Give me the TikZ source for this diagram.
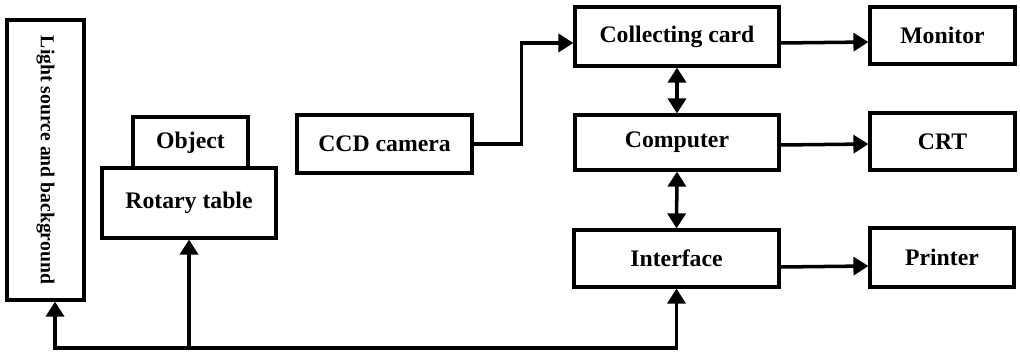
\documentclass[tikz,border=0pt]{standalone}
\usepackage{fontspec}
\setmainfont{Liberation Serif}
\usepackage{tikz}
\usetikzlibrary{arrows.meta,calc}

\tikzset{
  blk/.style={draw, line width=1.8pt, inner sep=2pt, align=center,
    font=\fontsize{13.5}{16}\selectfont\bfseries},
  arr/.style={line width=2pt, -{Triangle[length=0.3cm,width=0.36cm]}},
  arrs/.style={line width=2pt, {Triangle[length=0.3cm,width=0.36cm]}-{Triangle[length=0.3cm,width=0.36cm]}},
  bus/.style={line width=2pt, line cap=rect}
}

\begin{document}
\begin{tikzpicture}
\useasboundingbox (0,0) rectangle (20.4,7.1);
% boxes
\node[blk, minimum width=1.54cm, minimum height=5.6cm] (light) at (0.91,3.9)
  {\rotatebox{-90}{\fontsize{11.2}{14}\selectfont\bfseries Light source and background}};
\node[blk, minimum width=2.3cm, minimum height=1.02cm] (obj) at (3.81,4.25) {Object};
\node[blk, minimum width=3.48cm, minimum height=1.4cm] (rot) at (3.78,3.04) {Rotary table};
\node[blk, minimum width=3.5cm, minimum height=1.16cm] (ccd) at (7.69,4.22) {CCD camera};
\node[blk, minimum width=4.08cm, minimum height=1.18cm] (coll) at (13.54,6.37) {Collecting card};
\node[blk, minimum width=4.08cm, minimum height=1.1cm] (comp) at (13.54,4.25) {Computer};
\node[blk, minimum width=4.1cm, minimum height=1.14cm] (iface) at (13.53,1.93) {Interface};
\node[blk, minimum width=2.9cm, minimum height=1.14cm] (mon) at (18.85,6.39) {Monitor};
\node[blk, minimum width=2.9cm, minimum height=1.14cm] (crt) at (18.85,4.27) {CRT};
\node[blk, minimum width=2.88cm, minimum height=1.18cm] (prn) at (18.84,1.95) {Printer};

% signal path
\draw[arr] (ccd.east) -- ++(0.96,0) |- ([yshift=-0.13cm]coll.west);
\draw[arr] ([yshift=-0.13cm]coll.east) -- ([yshift=-0.13cm]mon.west);
\draw[arr] ([yshift=-0.05cm]comp.east) -- ([yshift=-0.05cm]crt.west);
\draw[arr] ([yshift=-0.17cm]iface.east) -- ([yshift=-0.17cm]prn.west);
\draw[arrs] (coll.south) -- (comp.north);
\draw[arrs] (comp.south) -- (iface.north);

% control bus
\coordinate (bus) at (0,0.14);
\coordinate (lsin) at ([xshift=0.19cm]light.south);
\draw[bus] (bus -| lsin) -- (bus -| iface.south);
\draw[arr] (bus -| lsin) -- (lsin);
\draw[arr] (bus -| rot.south) -- (rot.south);
\draw[arr] (bus -| iface.south) -- (iface.south);
\end{tikzpicture}
\end{document}
